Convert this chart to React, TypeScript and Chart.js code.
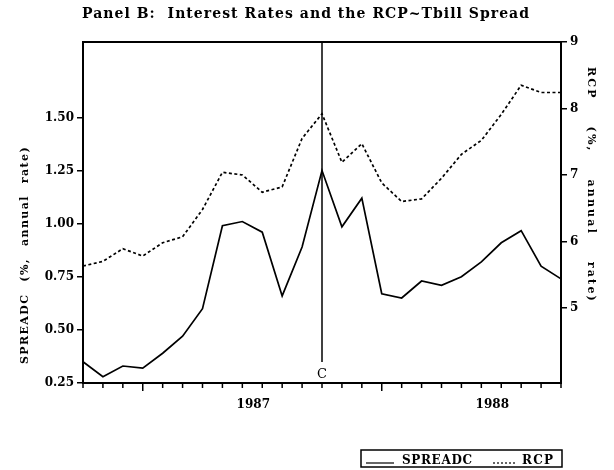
import React, { useEffect, useRef } from "react";
import { Chart, registerables } from "chart.js";

Chart.register(...registerables);

// ---- data ----
const months = [
  "Oct 1986", "Nov 1986", "Dec 1986",
  "Jan 1987", "Feb 1987", "Mar 1987", "Apr 1987", "May 1987", "Jun 1987",
  "Jul 1987", "Aug 1987", "Sep 1987", "Oct 1987", "Nov 1987", "Dec 1987",
  "Jan 1988", "Feb 1988", "Mar 1988", "Apr 1988", "May 1988", "Jun 1988",
  "Jul 1988", "Aug 1988", "Sep 1988", "Oct 1988",
];
const spreadadc = [
  0.35, 0.28, 0.33, 0.32, 0.39, 0.47, 0.6, 0.99, 1.01, 0.96, 0.66, 0.89, 1.25,
  0.985, 1.12, 0.67, 0.65, 0.73, 0.71, 0.75, 0.82, 0.91, 0.967, 0.8, 0.74,
];
const rcp = [
  5.63, 5.7, 5.89, 5.78, 5.98, 6.07, 6.48, 7.04, 7.0, 6.74, 6.82, 7.55, 7.92,
  7.19, 7.47, 6.88, 6.6, 6.64, 6.95, 7.31, 7.52, 7.91, 8.35, 8.24, 8.24,
];
const spreadTicks = [0.25, 0.5, 0.75, 1.0, 1.25, 1.5];
const rcpTicks = [5, 6, 7, 8, 9];
const spreadRange = [0.25, 1.855];
const rcpRange = [3.87, 9];
const years = ["1987", "1988"];
const crashMonth = "Oct 1987";
const crashLabel = "C";
const titleText = "Panel B:  Interest Rates and the RCP~Tbill Spread";
const leftTitle = "SPREADC (%, annual rate)";
const rightTitle = "RCP (%, annual rate)";
const legendNames = ["SPREADC", "RCP"];

const SERIF = '"DejaVu Serif", "Liberation Serif", serif';

function drawFitted(ctx: CanvasRenderingContext2D, text: string, x: number, y: number, target: number) {
  (ctx as any).letterSpacing = "0px";
  const w = ctx.measureText(text).width;
  const n = [...text].length;
  const ls = n > 1 ? (target - w) / (n - 1) : 0;
  (ctx as any).letterSpacing = ls + "px";
  ctx.textAlign = "left";
  ctx.fillText(text, x, y);
  (ctx as any).letterSpacing = "0px";
}

// letters spaced a little, word gaps stretched so the whole text spans target
function drawWordSpaced(
  ctx: CanvasRenderingContext2D, text: string, x: number, y: number, target: number, letter: number
) {
  const c = ctx as any;
  c.letterSpacing = letter + "px";
  c.wordSpacing = "0px";
  const w = ctx.measureText(text).width;
  const spaces = text.split(" ").length - 1;
  const ws = spaces > 0 ? Math.max(0, (target - w) / spaces) : 0;
  c.wordSpacing = ws + "px";
  ctx.textAlign = "left";
  ctx.fillText(text, x, y);
  c.letterSpacing = "0px";
  c.wordSpacing = "0px";
}

const decor = {
  id: "decor",
  afterDraw(chart: any) {
    const { ctx, chartArea: a, scales } = chart;
    const xs = scales.x;
    const px = (v: number) => xs.getPixelForValue(v);
    ctx.save();
    ctx.strokeStyle = "#000";
    ctx.fillStyle = "#000";

    // frame
    ctx.lineWidth = 2;
    ctx.strokeRect(a.left, a.top, a.right - a.left, a.bottom - a.top);

    // x tick marks
    ctx.lineWidth = 1.5;
    months.forEach((m, i) => {
      const x = px(i);
      const len = m.startsWith("Jan") ? 8 : 5;
      ctx.beginPath();
      ctx.moveTo(x, a.bottom);
      ctx.lineTo(x, a.bottom + len);
      ctx.stroke();
    });

    // year labels
    ctx.font = `bold 12px ${SERIF}`;
    ctx.textAlign = "center";
    ctx.textBaseline = "alphabetic";
    years.forEach((yr) => {
      const i = months.indexOf("Jan " + yr);
      ctx.fillText(yr, px(i + 5.55), 408);
    });

    // crash line
    const ci = months.indexOf(crashMonth);
    const cx = px(ci);
    ctx.lineWidth = 1.5;
    ctx.beginPath();
    ctx.moveTo(cx, a.top);
    ctx.lineTo(cx, 362);
    ctx.stroke();
    ctx.font = `13px ${SERIF}`;
    ctx.textAlign = "center";
    ctx.fillText(crashLabel, cx, 378);

    // title
    ctx.font = `bold 14px ${SERIF}`;
    drawFitted(ctx, titleText, 82, 18, 447);

    // left axis title (bottom-to-top)
    ctx.font = `bold 11px ${SERIF}`;
    ctx.save();
    ctx.translate(25, 255);
    ctx.rotate(-Math.PI / 2);
    ctx.textBaseline = "middle";
    drawWordSpaced(ctx, leftTitle, -109, 0, 218, 1.4);
    ctx.restore();

    // right axis title (top-to-bottom)
    ctx.save();
    ctx.translate(591, 185);
    ctx.rotate(Math.PI / 2);
    ctx.textBaseline = "middle";
    drawWordSpaced(ctx, rightTitle, -118, 0, 236, 2.2);
    ctx.restore();

    // legend
    ctx.lineWidth = 1.5;
    ctx.strokeRect(361, 450, 201, 17);
    ctx.lineWidth = 1.2;
    ctx.beginPath();
    ctx.moveTo(366, 463);
    ctx.lineTo(394, 463);
    ctx.stroke();
    ctx.font = `bold 12px ${SERIF}`;
    ctx.textBaseline = "alphabetic";
    drawFitted(ctx, legendNames[0], 402, 464, 70);
    ctx.setLineDash([2, 2]);
    ctx.beginPath();
    ctx.moveTo(493, 463);
    ctx.lineTo(515, 463);
    ctx.stroke();
    ctx.setLineDash([]);
    drawFitted(ctx, legendNames[1], 522, 464, 31);

    ctx.restore();
  },
};

export default function App() {
  const ref = useRef<HTMLCanvasElement | null>(null);
  useEffect(() => {
    document.body.style.margin = "0";
    const canvas = ref.current;
    if (!canvas) return;
    const tickFont = { family: SERIF, size: 12, weight: "bold" as const };
    const chart = new Chart(canvas, {
      type: "line",
      data: {
        labels: months,
        datasets: [
          {
            label: legendNames[0],
            data: spreadadc,
            yAxisID: "y",
            borderColor: "#000",
            borderWidth: 1.7,
            pointRadius: 0,
            tension: 0,
            fill: false,
          },
          {
            label: legendNames[1],
            data: rcp,
            yAxisID: "y2",
            borderColor: "#000",
            borderWidth: 1.7,
            borderDash: [3, 2.5],
            pointRadius: 0,
            tension: 0,
            fill: false,
          },
        ],
      },
      plugins: [decor],
      options: {
        responsive: false,
        animation: false,
        events: [],
        layout: { padding: { top: 42, left: 0, right: 0, bottom: 0 } },
        plugins: {
          legend: { display: false },
          title: { display: false },
          tooltip: { enabled: false },
        },
        scales: {
          x: {
            type: "category",
            offset: false,
            grid: { display: false },
            border: { display: false },
            ticks: { display: false },
            afterFit: (s: any) => {
              s.height = 87;
            },
          },
          y: {
            position: "left",
            min: spreadRange[0],
            max: spreadRange[1],
            afterBuildTicks: (s: any) => {
              s.ticks = spreadTicks.map((v) => ({ value: v }));
            },
            afterFit: (s: any) => {
              s.width = 83;
            },
            ticks: {
              autoSkip: false,
              color: "#000",
              font: tickFont,
              padding: 3,
              callback: (v: any) => Number(v).toFixed(2),
            },
            grid: {
              drawOnChartArea: false,
              drawTicks: true,
              tickLength: 6,
              tickColor: "#000",
              lineWidth: 1.5,
            },
            border: { display: true, color: "#000", width: 2 },
          },
          y2: {
            position: "right",
            min: rcpRange[0],
            max: rcpRange[1],
            afterBuildTicks: (s: any) => {
              s.ticks = rcpTicks.map((v) => ({ value: v }));
            },
            afterFit: (s: any) => {
              s.width = 53;
            },
            ticks: {
              autoSkip: false,
              color: "#000",
              font: tickFont,
              padding: 3,
              callback: (v: any) => String(v),
            },
            grid: {
              drawOnChartArea: false,
              drawTicks: true,
              tickLength: 6,
              tickColor: "#000",
              lineWidth: 1.5,
            },
            border: { display: true, color: "#000", width: 2 },
          },
        },
      },
    });
    return () => chart.destroy();
  }, []);
  return (
    <div style={{ width: 614, height: 470, background: "#fff" }}>
      <canvas ref={ref} width={614} height={470} style={{ display: "block" }} />
    </div>
  );
}
